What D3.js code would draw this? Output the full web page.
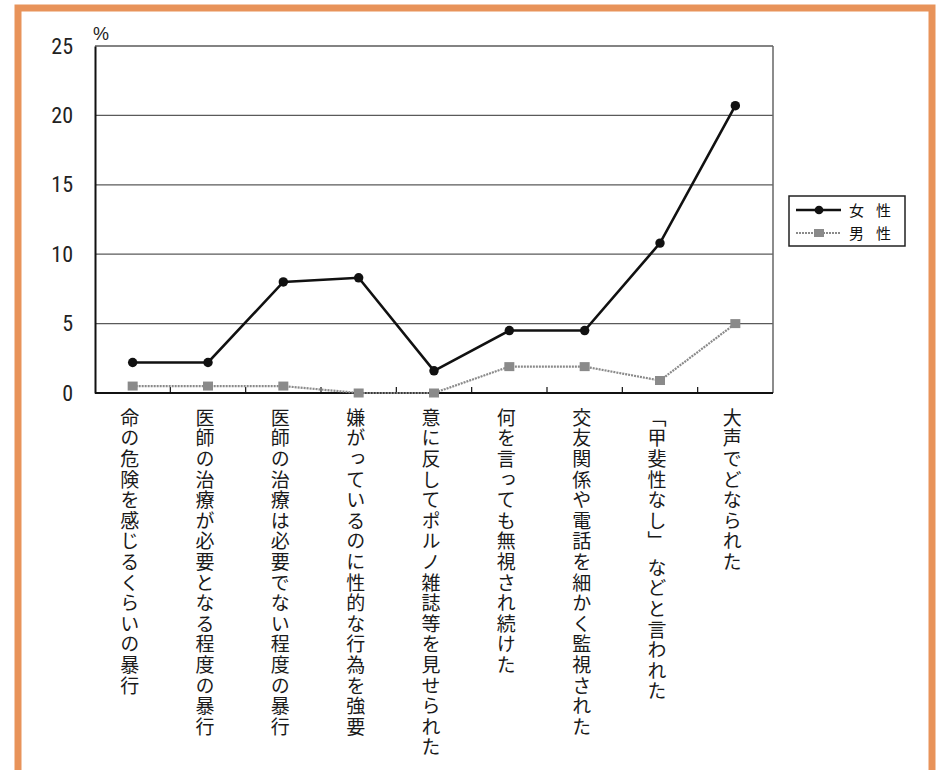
<!DOCTYPE html>
<html>
<head>
<meta charset="utf-8">
<script src="https://cdn.jsdelivr.net/npm/d3@7"></script>
<style>
  body { margin: 0; background: #fff; }
  svg { display: block; }
</style>
</head>
<body>
<div id="chart"></div>
<script>
// data
const categories = [
  "命の危険を感じるくらいの暴行",
  "医師の治療が必要となる程度の暴行",
  "医師の治療は必要でない程度の暴行",
  "嫌がっているのに性的な行為を強要",
  "意に反してポルノ雑誌等を見せられた",
  "何を言っても無視され続けた",
  "交友関係や電話を細かく監視された",
  "「甲斐性なし」 などと言われた",
  "大声でどなられた"
];
const women = [2.2, 2.2, 8.0, 8.3, 1.6, 4.5, 4.5, 10.8, 20.7];
const men = [0.5, 0.5, 0.5, 0, 0, 1.9, 1.9, 0.9, 5.0];
const yTicks = [0, 5, 10, 15, 20, 25];

const W = 939, H = 770;
const mLeft = 95, mRight = 773, mTop = 46, mBottom = 393;

const svg = d3.select("#chart").append("svg")
  .attr("width", W).attr("height", H);

// orange frame
svg.append("rect")
  .attr("x", 18).attr("y", 8)
  .attr("width", 914).attr("height", 770)
  .attr("fill", "none")
  .attr("stroke", "#e8935a")
  .attr("stroke-width", 7);

const x = d3.scaleBand().domain(categories).range([mLeft, mRight]);
const y = d3.scaleLinear().domain([0, 25]).range([mBottom, mTop]);

// gridlines
svg.selectAll("line.grid")
  .data(yTicks.filter(d => d > 0))
  .enter()
  .append("line")
  .attr("class", "grid")
  .attr("x1", mLeft).attr("x2", mRight)
  .attr("y1", d => y(d)).attr("y2", d => y(d))
  .attr("stroke", "#5a5a5a")
  .attr("stroke-width", 1.3);

// right border
svg.append("line")
  .attr("x1", mRight).attr("x2", mRight)
  .attr("y1", mTop).attr("y2", mBottom)
  .attr("stroke", "#666").attr("stroke-width", 1.5);

// y axis
const yAxis = svg.append("g")
  .attr("transform", `translate(${mLeft},0)`)
  .call(d3.axisLeft(y).tickValues(yTicks).tickSize(0).tickPadding(22));
yAxis.select(".domain").attr("stroke", "#111").attr("stroke-width", 2);
yAxis.selectAll("text")
  .attr("font-family", "'Liberation Sans Narrow', 'Roboto Condensed', 'Liberation Sans', sans-serif")
  .attr("font-size", 22)
  .attr("fill", "#222");

svg.append("text")
  .attr("x", 93).attr("y", 40)
  .attr("font-family", "'Liberation Sans Narrow', 'Liberation Sans', sans-serif")
  .attr("font-size", 18)
  .attr("fill", "#222")
  .text("%");

// x axis with inner ticks at category boundaries
const xb = svg.append("g").attr("transform", `translate(0,${mBottom})`);
xb.append("line")
  .attr("x1", mLeft).attr("x2", mRight)
  .attr("stroke", "#111").attr("stroke-width", 2);
xb.selectAll("line.tick")
  .data(categories.slice(1))
  .enter()
  .append("line")
  .attr("class", "tick")
  .attr("x1", d => x(d)).attr("x2", d => x(d))
  .attr("y1", 0).attr("y2", -6)
  .attr("stroke", "#111").attr("stroke-width", 1.2);

// vertical category labels
svg.selectAll("text.cat")
  .data(categories)
  .enter()
  .append("text")
  .attr("class", "cat")
  .attr("x", d => x(d) + x.bandwidth() / 2 - 3)
  .attr("y", 408)
  .style("writing-mode", "vertical-rl")
  .style("letter-spacing", "1.6px")
  .attr("font-family", "'Noto Sans CJK JP', sans-serif")
  .attr("font-size", 19)
  .attr("fill", "#1a1a1a")
  .text(d => d);

const cx = (d, i) => x(categories[i]) + x.bandwidth() / 2;
const line = d3.line()
  .x((d, i) => cx(d, i))
  .y(d => y(d));

// men series
svg.append("path")
  .datum(men)
  .attr("d", line)
  .attr("fill", "none")
  .attr("stroke", "#8a8a8a")
  .attr("stroke-width", 2.2)
  .attr("stroke-dasharray", "2,1");
svg.selectAll("rect.men")
  .data(men)
  .enter()
  .append("rect")
  .attr("class", "men")
  .attr("x", (d, i) => cx(d, i) - 5)
  .attr("y", d => y(d) - 4.5)
  .attr("width", 10).attr("height", 9)
  .attr("fill", "#8a8a8a");

// women series
svg.append("path")
  .datum(women)
  .attr("d", line)
  .attr("fill", "none")
  .attr("stroke", "#111")
  .attr("stroke-width", 2.6);
svg.selectAll("path.women")
  .data(women)
  .enter()
  .append("path")
  .attr("class", "women")
  .attr("transform", (d, i) => `translate(${cx(d, i)},${y(d)})`)
  .attr("d", d3.symbol().type(d3.symbolCircle).size(70))
  .attr("fill", "#111");

// legend
const lg = svg.append("g").attr("transform", "translate(789,196)");
lg.append("rect")
  .attr("width", 116).attr("height", 50)
  .attr("fill", "#fff")
  .attr("stroke", "#222").attr("stroke-width", 1.5);
const legendItems = [
  { name: "女性", color: "#111", width: 2.6, dash: null, sym: "circle" },
  { name: "男性", color: "#8a8a8a", width: 2, dash: "2,1", sym: "square" }
];
legendItems.forEach((it, i) => {
  const ly = 14 + i * 23;
  lg.append("line")
    .attr("x1", 7).attr("x2", 52)
    .attr("y1", ly).attr("y2", ly)
    .attr("stroke", it.color)
    .attr("stroke-width", it.width)
    .attr("stroke-dasharray", it.dash);
  if (it.sym === "circle") {
    lg.append("path")
      .attr("transform", `translate(30,${ly})`)
      .attr("d", d3.symbol().type(d3.symbolCircle).size(60))
      .attr("fill", it.color);
  } else {
    lg.append("rect")
      .attr("x", 25).attr("y", ly - 4)
      .attr("width", 10).attr("height", 8)
      .attr("fill", it.color);
  }
  lg.append("text")
    .attr("x", 60).attr("y", ly + 5.5)
    .attr("font-family", "'Noto Sans CJK JP', sans-serif")
    .attr("font-size", 15)
    .style("letter-spacing", "12px")
    .attr("fill", "#111")
    .text(it.name);
});
</script>
</body>
</html>
